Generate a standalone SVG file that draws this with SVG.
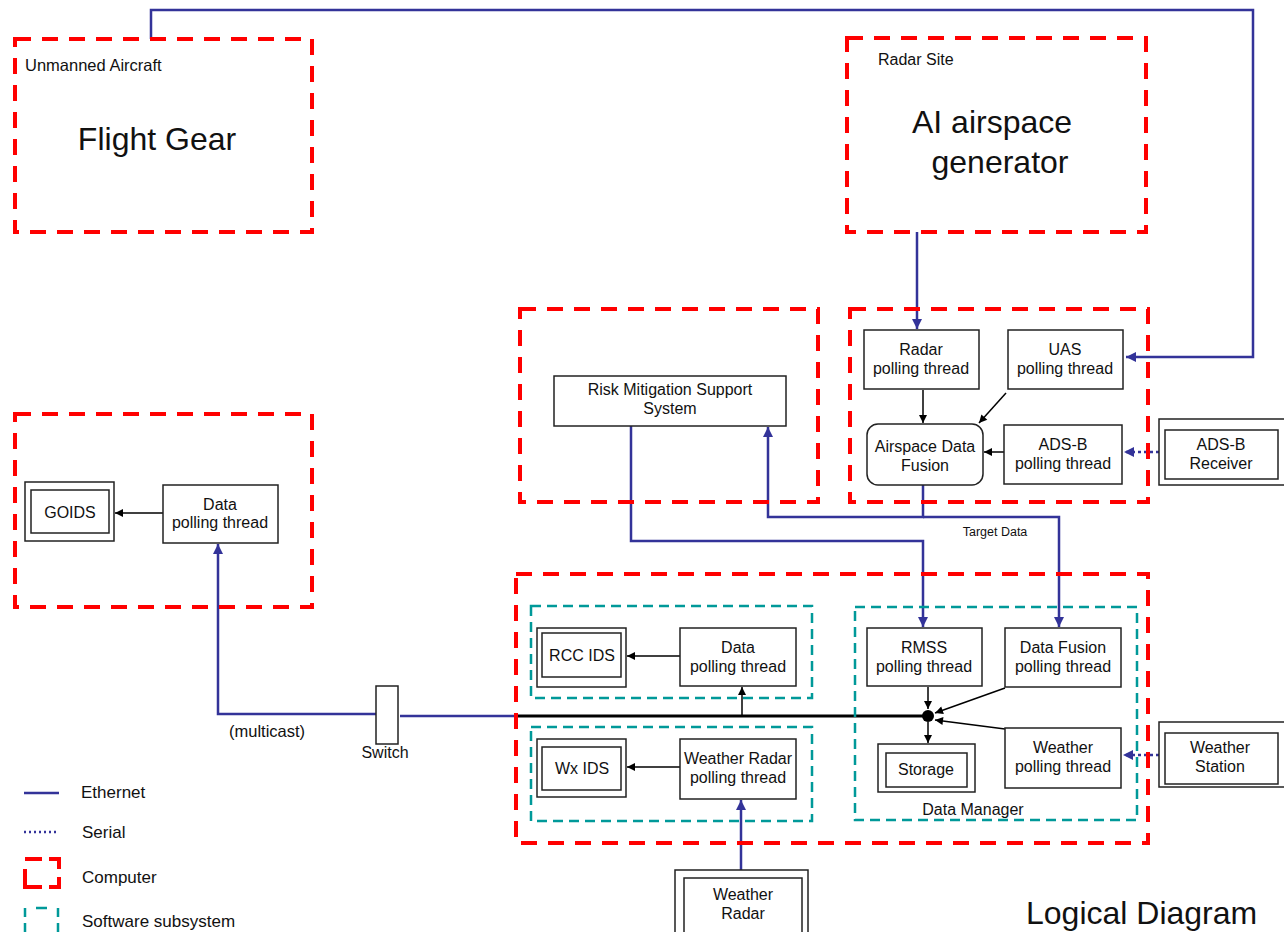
<svg xmlns="http://www.w3.org/2000/svg" width="1284" height="932" viewBox="0 0 1284 932">
<defs>
<style>
.comp{fill:none;stroke:#FF0000;stroke-width:4;stroke-dasharray:16 11}
.sub{fill:none;stroke:#009999;stroke-width:2.5;stroke-dasharray:10 6}
.box{fill:#fff;stroke:#222;stroke-width:1.5}
.eth{fill:none;stroke:#333399;stroke-width:2.5}
.ser{fill:none;stroke:#333399;stroke-width:2.5;stroke-dasharray:3 3}
.blk{fill:none;stroke:#000;stroke-width:1.5}
.bus{fill:none;stroke:#000;stroke-width:3}
text{font-family:"Liberation Sans",Arial,sans-serif;fill:#111}
.t{font-size:16px;text-anchor:middle}
.s{font-size:16px}
.lg{font-size:17px}
.big{font-size:32px;text-anchor:middle}
</style>
<marker id="ab" viewBox="0 0 10 10" refX="10" refY="5" markerWidth="9" markerHeight="8" markerUnits="userSpaceOnUse" orient="auto"><path d="M0,0 L10,5 L0,10 z" fill="#000"/></marker>
<marker id="au" viewBox="0 0 10 10" refX="10" refY="5" markerWidth="11" markerHeight="10" markerUnits="userSpaceOnUse" orient="auto"><path d="M0,0 L10,5 L0,10 z" fill="#333399"/></marker>
</defs>
<rect width="1284" height="932" fill="#fff"/>

<g id="connectors">
<path class="eth" d="M151,39 V10 H1253 V357 H1126" marker-end="url(#au)"/>
<path class="eth" d="M917,232 V329" marker-end="url(#au)"/>
<path class="eth" d="M923,485 V517 H768 V427" marker-end="url(#au)"/>
<path class="eth" d="M923,517 H1059 V627" marker-end="url(#au)"/>
<path class="eth" d="M631,426 V541 H923 V627" marker-end="url(#au)"/>
<path class="eth" d="M378,714 H218 V544" marker-end="url(#au)"/>
<path class="eth" d="M400,716 H516"/>
<path class="bus" d="M516,716 H928"/>
<path class="eth" d="M741,870 V800" marker-end="url(#au)"/>
<path class="ser" d="M1159,452 H1124" marker-end="url(#au)"/>
<path class="ser" d="M1159,755 H1123" marker-end="url(#au)"/>
<path class="blk" d="M742,716 V687" marker-end="url(#ab)"/>
<path class="blk" d="M923,390 V423" marker-end="url(#ab)"/>
<path class="blk" d="M1006,393 L979,423" marker-end="url(#ab)"/>
<path class="blk" d="M1004,452 H984" marker-end="url(#ab)"/>
<path class="blk" d="M163,513 H115" marker-end="url(#ab)"/>
<path class="blk" d="M680,656 H627" marker-end="url(#ab)"/>
<path class="blk" d="M680,767 H627" marker-end="url(#ab)"/>
<path class="blk" d="M928,687 V709" marker-end="url(#ab)"/>
<path class="blk" d="M928,722 V743" marker-end="url(#ab)"/>
<path class="blk" d="M1005,688 L935,713" marker-end="url(#ab)"/>
<path class="blk" d="M1005,729 L935,720" marker-end="url(#ab)"/>
<circle cx="928" cy="716" r="6" fill="#000"/>
</g>

<g id="unmanned-aircraft">
<rect class="comp" x="15" y="39" width="297" height="193"/>
<text x="25" y="71" style="font-size:16.5px">Unmanned Aircraft</text>
<text class="big" x="157" y="150">Flight Gear</text>
</g>

<g id="radar-site">
<rect class="comp" x="847" y="38" width="299" height="194"/>
<text class="s" x="878" y="65">Radar Site</text>
<text class="big" x="992" y="133">AI airspace</text>
<text class="big" x="1000" y="173">generator</text>
</g>

<g id="rmss-computer">
<rect class="comp" x="520" y="309" width="298" height="193"/>
</g>
<g id="rmss">
<rect class="box" x="554" y="376" width="232" height="50"/>
<text class="t" x="670" y="395">Risk Mitigation Support</text>
<text class="t" x="670" y="414">System</text>
</g>

<g id="fusion-computer">
<rect class="comp" x="850" y="309" width="298" height="193"/>
</g>
<g id="radar-polling">
<rect class="box" x="864" y="330" width="115" height="59"/>
<text class="t" x="921" y="355">Radar</text>
<text class="t" x="921" y="374">polling thread</text>
</g>
<g id="uas-polling">
<rect class="box" x="1008" y="330" width="115" height="59"/>
<text class="t" x="1065" y="355">UAS</text>
<text class="t" x="1065" y="374">polling thread</text>
</g>
<g id="airspace-data-fusion">
<rect class="box" x="867" y="424" width="116" height="61" rx="11"/>
<text class="t" x="925" y="452">Airspace Data</text>
<text class="t" x="925" y="471">Fusion</text>
</g>
<g id="adsb-polling">
<rect class="box" x="1004" y="425" width="118" height="59"/>
<text class="t" x="1063" y="450">ADS-B</text>
<text class="t" x="1063" y="469">polling thread</text>
</g>
<g id="adsb-receiver">
<rect class="box" x="1159" y="419" width="130" height="66"/>
<rect class="box" x="1165" y="430" width="113" height="49"/>
<text class="t" x="1221" y="450">ADS-B</text>
<text class="t" x="1221" y="469">Receiver</text>
</g>
<text x="995" y="536" style="font-size:12.5px;text-anchor:middle">Target Data</text>

<g id="goids-computer">
<rect class="comp" x="15" y="414" width="297" height="193"/>
</g>
<g id="goids">
<rect class="box" x="25" y="482" width="89" height="59"/>
<rect class="box" x="31" y="490" width="78" height="43"/>
<text class="t" x="70" y="518">GOIDS</text>
</g>
<g id="goids-polling">
<rect class="box" x="163" y="485" width="115" height="58"/>
<text class="t" x="220" y="510">Data</text>
<text class="t" x="220" y="528">polling thread</text>
</g>

<g id="switch">
<rect class="box" x="376" y="686" width="22" height="58"/>
<text class="t" x="385" y="758">Switch</text>
</g>
<text x="229" y="737" style="font-size:16.5px">(multicast)</text>

<g id="main-computer">
<rect class="comp" x="516" y="574" width="632" height="269"/>
</g>
<g id="rcc-subsystem">
<rect class="sub" x="531" y="606" width="281" height="92"/>
</g>
<g id="rcc-ids">
<rect class="box" x="537" y="628" width="89" height="59"/>
<rect class="box" x="542" y="633" width="79" height="44"/>
<text class="t" x="582" y="661">RCC IDS</text>
</g>
<g id="rcc-polling">
<rect class="box" x="680" y="628" width="116" height="58"/>
<text class="t" x="738" y="653">Data</text>
<text class="t" x="738" y="672">polling thread</text>
</g>
<g id="wx-subsystem">
<rect class="sub" x="531" y="727" width="281" height="94"/>
</g>
<g id="wx-ids">
<rect class="box" x="537" y="739" width="89" height="58"/>
<rect class="box" x="542" y="747" width="79" height="43"/>
<text class="t" x="582" y="774">Wx IDS</text>
</g>
<g id="wx-radar-polling">
<rect class="box" x="680" y="739" width="116" height="60"/>
<text class="t" x="738" y="764">Weather Radar</text>
<text class="t" x="738" y="783">polling thread</text>
</g>

<g id="data-manager">
<rect class="sub" x="855" y="607" width="282" height="213"/>
<text class="t" x="973" y="815">Data Manager</text>
</g>
<g id="rmss-polling">
<rect class="box" x="867" y="628" width="115" height="58"/>
<text class="t" x="924" y="653">RMSS</text>
<text class="t" x="924" y="672">polling thread</text>
</g>
<g id="fusion-polling">
<rect class="box" x="1005" y="628" width="116" height="59"/>
<text class="t" x="1063" y="653">Data Fusion</text>
<text class="t" x="1063" y="672">polling thread</text>
</g>
<g id="storage">
<rect class="box" x="878" y="744" width="97" height="48"/>
<rect class="box" x="886" y="753" width="81" height="34"/>
<text class="t" x="926" y="775">Storage</text>
</g>
<g id="weather-polling">
<rect class="box" x="1005" y="728" width="116" height="60"/>
<text class="t" x="1063" y="753">Weather</text>
<text class="t" x="1063" y="772">polling thread</text>
</g>
<g id="weather-station">
<rect class="box" x="1159" y="722" width="130" height="65"/>
<rect class="box" x="1165" y="733" width="113" height="51"/>
<text class="t" x="1220" y="753">Weather</text>
<text class="t" x="1220" y="772">Station</text>
</g>

<g id="weather-radar">
<rect class="box" x="675" y="870" width="133" height="70"/>
<rect class="box" x="684" y="878" width="118" height="60"/>
<text class="t" x="743" y="900">Weather</text>
<text class="t" x="743" y="919">Radar</text>
</g>

<text x="1026" y="924" style="font-size:32px">Logical Diagram</text>

<g id="legend">
<path class="eth" d="M24,793 H59"/>
<text class="lg" x="81" y="798">Ethernet</text>
<path class="ser" d="M24,832 H59" style="stroke-dasharray:2 3"/>
<text class="lg" x="82" y="838">Serial</text>
<path d="M25,859 H42 M49,859 H59 V869 M25,869 V887 H42 M49,887 H59 V877" fill="none" stroke="#FF0000" stroke-width="4"/>
<text class="lg" x="82" y="883">Computer</text>
<path d="M25,908 V917 M36,908 H47 M58,908 V917 M25,923 V932 M58,923 V932" fill="none" stroke="#009999" stroke-width="2.5"/>
<text class="lg" x="82" y="927">Software subsystem</text>
</g>
</svg>
